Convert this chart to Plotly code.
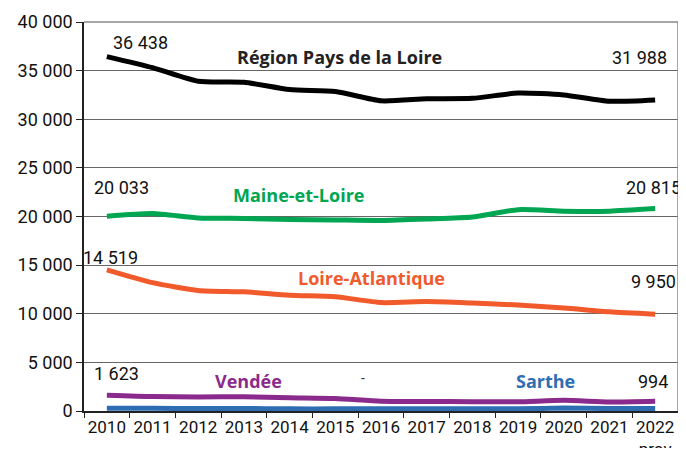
import plotly.graph_objects as go

years = ["2010", "2011", "2012", "2013", "2014", "2015", "2016", "2017", "2018", "2019", "2020", "2021", "2022"]
tick_text = ["2010", "2011", "2012", "2013", "2014", "2015", "2016", "2017", "2018", "2019", "2020", "2021", "2022<br>prov"]

region = [36438, 35300, 33900, 33800, 33050, 32850, 31900, 32100, 32150, 32700, 32500, 31850, 31988]
maine_et_loire = [20033, 20300, 19850, 19800, 19700, 19650, 19600, 19750, 19950, 20700, 20550, 20550, 20815]
loire_atlantique = [14519, 13200, 12400, 12250, 11900, 11750, 11150, 11250, 11100, 10900, 10600, 10200, 9950]
vendee = [1623, 1480, 1450, 1460, 1350, 1280, 1000, 980, 950, 950, 1100, 920, 994]
sarthe = [280, 270, 260, 260, 220, 220, 240, 230, 220, 230, 300, 250, 260]

series = [
    ("Sarthe", sarthe, "#2f6db3"),
    ("Vendée", vendee, "#8a2a8c"),
    ("Loire-Atlantique", loire_atlantique, "#f15a2b"),
    ("Maine-et-Loire", maine_et_loire, "#00a651"),
    ("Région Pays de la Loire", region, "#000000"),
]

xs = list(range(len(years)))
fig = go.Figure()
for name, vals, col in series:
    fig.add_trace(go.Scatter(x=xs, y=vals, mode="lines", name=name,
                             line=dict(color=col, width=5, shape="spline", smoothing=0.6)))

num_font = dict(family="Roboto, Arial, sans-serif", size=18, color="#111111")
lab_font = "'Open Sans', Lato, sans-serif"

def fmt(v):
    return f"{v:,}".replace(",", " ")

first, last = 0, len(years) - 1
ann = [
    (first, 37900, fmt(region[0]), 34),
    (last, 36400, fmt(region[-1]), -16),
    (first, 23000, fmt(maine_et_loire[0]), 15),
    (last, 23000, fmt(maine_et_loire[-1]), -2),
    (first, 15800, fmt(loire_atlantique[0]), 4),
    (last, 13300, fmt(loire_atlantique[-1]), -2),
    (first, 3850, fmt(vendee[0]), 10),
    (last, 3050, fmt(vendee[-1]), -2),
]
for x, y, t, dx in ann:
    fig.add_annotation(x=x, y=y, text=t, showarrow=False, xref="x", yref="y",
                       xshift=dx, font=num_font)

names = [
    ("Région Pays de la Loire", "#222222", 5.1, 36400),
    ("Maine-et-Loire", "#00a651", 4.2, 22200),
    ("Loire-Atlantique", "#f15a2b", 5.8, 13700),
    ("Vendée", "#8a2a8c", 3.1, 3050),
    ("Sarthe", "#2f6db3", 9.6, 3050),
]
for t, c, xv, yv in names:
    fig.add_annotation(x=xv, y=yv, text=f"<b>{t}</b>", showarrow=False, xref="x", yref="y",
                       font=dict(family=lab_font, size=18, color=c))
fig.add_annotation(x=5.6, y=3350, text="-", showarrow=False, xref="x", yref="y",
                   font=dict(family="Roboto, Arial, sans-serif", size=14, color="#333"))

# top and right frame
fig.add_shape(type="line", xref="paper", yref="paper", x0=0, x1=1, y0=1, y1=1,
              line=dict(color="#888888", width=1.5))
fig.add_shape(type="line", xref="paper", yref="paper", x0=1, x1=1, y0=0, y1=1,
              line=dict(color="#888888", width=1.5))

fig.update_layout(
    width=670, height=440,
    margin=dict(l=76, r=0, t=14, b=37),
    paper_bgcolor="white", plot_bgcolor="white",
    showlegend=False,
    separators=", ",
    xaxis=dict(tickmode="array", tickvals=xs, ticktext=tick_text,
               range=[-0.5, 12.5], ticks="", automargin=False,
               showline=True, linecolor="#222", linewidth=1.5,
               showgrid=False, zeroline=False,
               tickfont=dict(family="Roboto, Arial, sans-serif", size=17, color="#111")),
    xaxis2=dict(overlaying="x", range=[-0.5, 12.5], tickmode="array",
                tickvals=[i - 0.5 for i in range(len(years) + 1)], showticklabels=False,
                ticks="outside", ticklen=6, tickcolor="#222", showgrid=False,
                zeroline=False, side="bottom", automargin=False),
    yaxis=dict(range=[0, 40000], dtick=5000, tickformat=",d", ticks="outside", ticklen=6,
               tickcolor="#222", showline=True, linecolor="#222", linewidth=1.5,
               showgrid=True, gridcolor="#666666", gridwidth=1, zeroline=False, automargin=False,
               tickfont=dict(family="Roboto, Arial, sans-serif", size=18, color="#111")),
)
fig.add_trace(go.Scatter(x=[0], y=[0], xaxis="x2", mode="markers", marker=dict(opacity=0),
                         hoverinfo="skip", showlegend=False))

fig.write_html("out.html")
